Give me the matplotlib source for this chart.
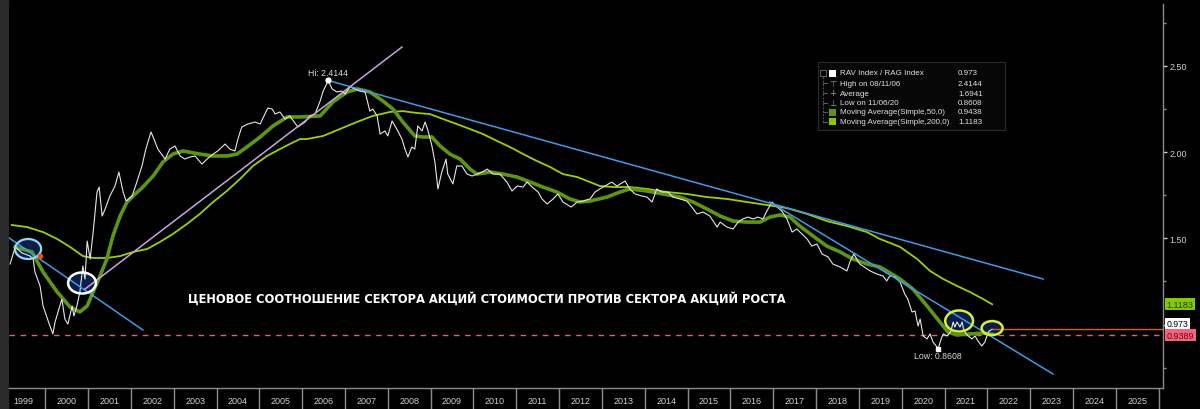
import matplotlib
matplotlib.use("Agg")
import matplotlib.pyplot as plt
from matplotlib.patches import Ellipse, Rectangle
from matplotlib.ticker import MultipleLocator, FixedLocator, FixedFormatter, NullFormatter, FuncFormatter

# RAV Index / RAG Index (decimal year, ratio)
ratio_t = [1999.18, 1999.30, 1999.46, 1999.65, 1999.72, 1999.76, 1999.88, 1999.95, 2000.11, 2000.18,
           2000.23, 2000.30, 2000.39, 2000.46, 2000.53, 2000.63, 2000.67, 2000.74, 2000.81, 2000.88,
           2000.93, 2000.98, 2001.05, 2001.12, 2001.21, 2001.26, 2001.33, 2001.40, 2001.51, 2001.63,
           2001.72, 2001.82, 2001.89, 2002.03, 2002.14, 2002.26, 2002.35, 2002.47, 2002.54, 2002.63,
           2002.80, 2002.91, 2003.03, 2003.15, 2003.26, 2003.38, 2003.50, 2003.66, 2003.78, 2003.92,
           2004.03, 2004.20, 2004.31, 2004.43, 2004.50, 2004.59, 2004.73, 2004.90, 2005.02, 2005.13,
           2005.20, 2005.30, 2005.37, 2005.48, 2005.60, 2005.71, 2005.90, 2006.07, 2006.18, 2006.30,
           2006.42, 2006.49, 2006.61, 2006.70, 2006.81, 2006.93, 2007.00, 2007.12, 2007.23, 2007.35,
           2007.47, 2007.58, 2007.65, 2007.75, 2007.82, 2007.93, 2008.00, 2008.10, 2008.21, 2008.33,
           2008.40, 2008.47, 2008.56, 2008.63, 2008.70, 2008.80, 2008.87, 2008.94, 2009.03, 2009.10,
           2009.17, 2009.26, 2009.36, 2009.40, 2009.52, 2009.61, 2009.73, 2009.85, 2009.97, 2010.08,
           2010.20, 2010.32, 2010.46, 2010.62, 2010.78, 2010.90, 2011.02, 2011.16, 2011.25, 2011.37,
           2011.51, 2011.60, 2011.72, 2011.86, 2011.97, 2012.09, 2012.28, 2012.42, 2012.56, 2012.72,
           2012.84, 2012.95, 2013.07, 2013.23, 2013.35, 2013.54, 2013.65, 2013.77, 2013.93, 2014.05,
           2014.17, 2014.28, 2014.40, 2014.54, 2014.66, 2014.82, 2014.98, 2015.10, 2015.22, 2015.36,
           2015.52, 2015.69, 2015.76, 2015.92, 2016.06, 2016.18, 2016.29, 2016.41, 2016.53, 2016.64,
           2016.76, 2016.85, 2016.97, 2017.09, 2017.20, 2017.32, 2017.44, 2017.55, 2017.67, 2017.79,
           2017.90, 2018.02, 2018.14, 2018.28, 2018.39, 2018.56, 2018.72, 2018.79, 2018.88, 2019.02,
           2019.26, 2019.42, 2019.56, 2019.65, 2019.72, 2019.84, 2019.96, 2020.07, 2020.14, 2020.24,
           2020.31, 2020.38, 2020.43, 2020.50, 2020.59, 2020.66, 2020.73, 2020.85, 2020.92, 2020.97,
           2021.06, 2021.15, 2021.20, 2021.24, 2021.29, 2021.36, 2021.41, 2021.45, 2021.55, 2021.64,
           2021.71, 2021.78, 2021.87, 2021.94, 2021.99, 2022.04, 2022.11]
ratio_v = [1.351, 1.450, 1.415, 1.397, 1.380, 1.305, 1.224, 1.108, 0.992, 0.946,
           1.015, 1.073, 1.148, 1.032, 1.003, 1.108, 1.050, 1.108, 1.189, 1.340,
           1.264, 1.484, 1.380, 1.536, 1.768, 1.797, 1.629, 1.670, 1.745, 1.803,
           1.884, 1.768, 1.716, 1.745, 1.826, 1.919, 2.017, 2.116, 2.075, 2.017,
           1.959, 2.017, 2.035, 1.977, 1.959, 1.971, 1.977, 1.930, 1.959, 1.988,
           2.006, 2.046, 2.017, 2.006, 2.075, 2.145, 2.162, 2.174, 2.162, 2.220,
           2.255, 2.249, 2.220, 2.232, 2.191, 2.209, 2.145, 2.174, 2.209, 2.220,
           2.295, 2.353, 2.414, 2.365, 2.348, 2.353, 2.336, 2.377, 2.365, 2.353,
           2.348, 2.237, 2.249, 2.209, 2.104, 2.122, 2.093, 2.180, 2.133, 2.075,
           2.017, 1.971, 2.029, 2.017, 2.151, 2.122, 2.174, 2.122, 2.035, 1.942,
           1.786, 1.884, 1.959, 1.872, 1.815, 1.919, 1.919, 1.872, 1.861, 1.872,
           1.884, 1.901, 1.872, 1.872, 1.826, 1.774, 1.803, 1.797, 1.826, 1.797,
           1.768, 1.728, 1.699, 1.728, 1.757, 1.710, 1.681, 1.710, 1.716, 1.728,
           1.768, 1.786, 1.803, 1.826, 1.803, 1.832, 1.786, 1.757, 1.745, 1.739,
           1.710, 1.786, 1.768, 1.768, 1.739, 1.728, 1.716, 1.681, 1.641, 1.652,
           1.629, 1.565, 1.594, 1.565, 1.554, 1.594, 1.612, 1.623, 1.612, 1.623,
           1.612, 1.658, 1.710, 1.681, 1.658, 1.612, 1.536, 1.554, 1.525, 1.496,
           1.455, 1.467, 1.409, 1.392, 1.351, 1.334, 1.311, 1.363, 1.409, 1.351,
           1.311, 1.293, 1.282, 1.253, 1.282, 1.276, 1.247, 1.177, 1.148, 1.073,
           1.079, 0.992, 1.032, 0.934, 0.917, 0.946, 0.899, 0.861, 0.917, 0.946,
           0.934, 0.963, 1.015, 0.986, 1.015, 0.986, 1.015, 0.963, 0.934, 0.917,
           0.934, 0.905, 0.876, 0.899, 0.934, 0.963, 0.973]

# Moving Average(Simple,50,0)
ma50_t = [1999.30, 1999.69, 1999.95, 2000.28, 2000.58, 2000.81, 2000.98, 2001.12, 2001.28, 2001.44,
          2001.58, 2001.75, 2001.91, 2002.05, 2002.28, 2002.52, 2002.75, 2002.98, 2003.22, 2003.61,
          2003.92, 2004.24, 2004.48, 2004.71, 2005.02, 2005.32, 2005.65, 2005.95, 2006.42, 2006.72,
          2007.05, 2007.30, 2007.58, 2007.89, 2008.12, 2008.35, 2008.63, 2008.82, 2009.03, 2009.22,
          2009.45, 2009.69, 2009.92, 2010.08, 2010.39, 2010.69, 2011.02, 2011.32, 2011.62, 2011.95,
          2012.25, 2012.49, 2012.72, 2013.12, 2013.42, 2013.65, 2014.05, 2014.42, 2014.82, 2015.13,
          2015.45, 2015.76, 2016.06, 2016.39, 2016.69, 2016.92, 2017.16, 2017.39, 2017.62, 2017.93,
          2018.25, 2018.56, 2018.86, 2019.19, 2019.49, 2019.65, 2019.96, 2020.26, 2020.59, 2020.89,
          2021.08, 2021.29, 2021.59, 2021.90, 2022.11]
ma50_v = [1.450, 1.421, 1.305, 1.189, 1.102, 1.073, 1.108, 1.189, 1.282, 1.380,
          1.513, 1.629, 1.710, 1.745, 1.797, 1.861, 1.942, 1.988, 2.006, 1.988,
          1.977, 1.977, 1.988, 2.029, 2.087, 2.151, 2.203, 2.203, 2.209, 2.290,
          2.348, 2.365, 2.348, 2.295, 2.249, 2.174, 2.093, 2.087, 2.087, 2.035,
          1.988, 1.959, 1.901, 1.872, 1.884, 1.872, 1.855, 1.826, 1.797, 1.768,
          1.728, 1.710, 1.716, 1.739, 1.768, 1.786, 1.774, 1.757, 1.739, 1.710,
          1.670, 1.629, 1.600, 1.594, 1.594, 1.623, 1.635, 1.623, 1.571, 1.513,
          1.455, 1.421, 1.380, 1.351, 1.334, 1.311, 1.264, 1.206, 1.108, 1.015,
          0.957, 0.940, 0.946, 0.951, 0.944]

# Moving Average(Simple,200,0)
ma200_t = [1999.22, 1999.58, 1999.95, 2000.28, 2000.58, 2000.88, 2001.12, 2001.44, 2001.75, 2002.05,
           2002.38, 2002.68, 2002.98, 2003.31, 2003.61, 2003.92, 2004.24, 2004.55, 2004.85, 2005.18,
           2005.48, 2005.71, 2005.95, 2006.11, 2006.49, 2006.88, 2007.28, 2007.65, 2008.05, 2008.35,
           2008.68, 2008.98, 2009.29, 2009.61, 2009.92, 2010.22, 2010.55, 2010.85, 2011.16, 2011.48,
           2011.79, 2012.09, 2012.42, 2012.72, 2012.95, 2013.26, 2013.65, 2014.05, 2014.52, 2014.98,
           2015.45, 2015.92, 2016.39, 2016.85, 2017.32, 2017.79, 2018.25, 2018.72, 2019.19, 2019.49,
           2019.96, 2020.36, 2020.66, 2020.97, 2021.29, 2021.59, 2021.90, 2022.11]
ma200_v = [1.577, 1.565, 1.536, 1.496, 1.450, 1.397, 1.386, 1.386, 1.397, 1.421,
           1.438, 1.479, 1.525, 1.583, 1.641, 1.710, 1.774, 1.844, 1.919, 1.977,
           2.017, 2.046, 2.075, 2.075, 2.093, 2.133, 2.174, 2.209, 2.232, 2.237,
           2.226, 2.220, 2.191, 2.162, 2.133, 2.104, 2.064, 2.029, 1.988, 1.948,
           1.913, 1.872, 1.855, 1.826, 1.803, 1.797, 1.797, 1.786, 1.768, 1.757,
           1.739, 1.728, 1.710, 1.693, 1.675, 1.641, 1.600, 1.571, 1.536, 1.496,
           1.450, 1.380, 1.311, 1.264, 1.224, 1.189, 1.148, 1.118]

# hand-drawn trend lines: (start year, start value, end year, end value)
trend_blue_long = [2006.61, 2.414, 2023.30, 1.264]
trend_blue_left = [1999.13, 1.507, 2002.28, 0.969]
trend_blue_low = [2016.92, 1.710, 2023.53, 0.714]
trend_pink = [2000.93, 1.206, 2008.33, 2.608]

# highlighted areas: (centre year, centre value, width in years, height in ratio)
circle_1999 = [1999.60, 1.438, 0.61, 0.116]
circle_2000 = [2000.86, 1.241, 0.65, 0.122]
circle_2021 = [2021.34, 1.021, 0.65, 0.122]
circle_2022 = [2022.11, 0.980, 0.49, 0.081]
marker_1999 = [1999.88, 1.397]

hi_date, hi_value = 2006.61, 2.4144
lo_date, lo_value = 2020.85, 0.8608
last_value = 0.973
red_level = 0.9389
ma50_last = 0.9438
ma200_last = 1.1183
years = list(range(1999, 2026))

legend_names = ["RAV Index / RAG Index", "High on 08/11/06", "Average", "Low on 11/06/20",
                "Moving Average(Simple,50,0)", "Moving Average(Simple,200,0)"]
legend_values = ["0.973", "2.4144", "1.6941", "0.8608", "0.9438", "1.1183"]

title = "ЦЕНОВОЕ СООТНОШЕНИЕ СЕКТОРА АКЦИЙ СТОИМОСТИ ПРОТИВ СЕКТОРА АКЦИЙ РОСТА"

W, H = 1200, 410
SMALL = "Liberation Sans"
c_raw = "#e6e6e6"
c_ma50 = "#5c9612"
c_ma200 = "#9ccf0a"
c_blue = "#3f9ae6"
c_pink = "#c9a3e0"
c_red = "#e0607a"
c_navy = "#0b1d48"


def fx(x):
    return x / W


def fy(y):
    return 1 - y / H


fig = plt.figure(figsize=(12, 4.1), dpi=100, facecolor="black")
fig.add_artist(Rectangle((0, 0), fx(8), 1, transform=fig.transFigure, color="#2b2b2b", zorder=0))
ax = fig.add_axes([fx(9), fy(389), fx(1163 - 9), (389 - 5) / H])
ax.set_facecolor("black")
x0, x1 = 1999.155, 2026.10
ax.set_xlim(x0, x1)
ax.set_ylim(0.6327, 2.8575)

# circle fills sit under the lines, rims on top
for (cx, cy, w, h), ec, lw in [(circle_1999, "#93d9f7", 1.6), (circle_2000, "white", 1.8),
                               (circle_2021, "#d6ee3c", 1.8), (circle_2022, "#d6ee3c", 1.8)]:
    ax.add_patch(Ellipse((cx, cy), w, h, facecolor=c_navy, edgecolor="none", zorder=1))
    ax.add_patch(Ellipse((cx, cy), w, h, facecolor="none", edgecolor=ec, lw=lw, zorder=6))

ax.axhline(red_level, color=c_red, lw=1, ls=(0, (4, 4)), zorder=2)
ax.hlines(last_value, ratio_t[-1], x1, color="#c8642a", lw=1, zorder=2)

ax.plot(ma200_t, ma200_v, color=c_ma200, lw=1.3, zorder=3)
ax.plot(ma50_t, ma50_v, color=c_ma50, lw=2.6, zorder=3.2)
ax.plot(ratio_t, ratio_v, color=c_raw, lw=0.8, zorder=4)

for t0, v0, t1, v1 in [trend_blue_long, trend_blue_left, trend_blue_low]:
    ax.plot([t0, t1], [v0, v1], color=c_blue, lw=1.1, zorder=5)
ax.plot(trend_pink[0::2], trend_pink[1::2], color=c_pink, lw=1.1, zorder=5)
ax.plot(*marker_1999, "o", color="#e8501e", ms=3, zorder=7)

ax.plot(hi_date, hi_value, "o", color="white", ms=3.5, zorder=7)
ax.annotate(f"Hi: {hi_value:.4f}", (hi_date, hi_value), xytext=(0, 5.5), textcoords="offset points",
            ha="center", va="center", color="#d8d8d8", fontsize=6.3, family=SMALL)
ax.plot(lo_date, lo_value, "s", color="white", ms=2.5, zorder=7)
ax.annotate(f"Low: {lo_value:.4f}", (lo_date, lo_value), xytext=(0, -4.8), textcoords="offset points",
            ha="center", va="center", color="#d8d8d8", fontsize=6.3, family=SMALL)

ttl = ax.text(2010.315, 1.154, title, ha="center", va="center", color="white",
              fontsize=9.5, fontweight="bold", family="DejaVu Sans", zorder=8)

# axes styling
for s in ["top", "left"]:
    ax.spines[s].set_visible(False)
for s in ["right", "bottom"]:
    ax.spines[s].set_color("#8c8c8c")
    ax.spines[s].set_linewidth(1)

ax.xaxis.set_major_locator(FixedLocator(range(2000, 2027)))
ax.xaxis.set_major_formatter(NullFormatter())
ax.xaxis.set_minor_locator(FixedLocator([y + 0.5 for y in years]))
ax.xaxis.set_minor_formatter(FixedFormatter([str(y) for y in years]))
ax.tick_params(axis="x", which="major", length=16, width=1, color="#8c8c8c", direction="out")
ax.tick_params(axis="x", which="minor", length=0, pad=5.5, labelsize=6.5, labelcolor="#d0d0d0")
for lab in ax.get_xticklabels(minor=True):
    lab.set_family(SMALL)

# the 1.00 label sits under the price tags, so it is left blank
ax.yaxis.tick_right()
ax.yaxis.set_major_locator(MultipleLocator(0.5))
ax.yaxis.set_minor_locator(MultipleLocator(0.25))
ax.yaxis.set_major_formatter(FuncFormatter(lambda v, p: "" if abs(v - 1) < 1e-6 else f"{v:.2f}"))
ax.tick_params(axis="y", which="major", length=3, width=1, color="#d0d0d0", pad=1.5,
               labelsize=6.5, labelcolor="#d0d0d0")
ax.tick_params(axis="y", which="minor", length=2, width=1, color="#8c8c8c")
for lab in ax.get_yticklabels():
    lab.set_family(SMALL)

# value tags on the right axis (stacked like the terminal does)
ytr = ax.get_yaxis_transform()
ax.text(1.003, ma200_last, f"{ma200_last:.4f}", transform=ytr, ha="left", va="center", fontsize=6.5,
        family=SMALL, color="#203f00", bbox=dict(boxstyle="square,pad=0.2", fc="#86c800", ec="none"),
        clip_on=False, zorder=9)
ax.text(1.003, 1.005, f"{last_value:.3f}", transform=ytr, ha="left", va="center", fontsize=6.3,
        family=SMALL, color="black", bbox=dict(boxstyle="square,pad=0.15", fc="white", ec="none"),
        clip_on=False, zorder=9)
ax.text(1.003, red_level, f"{red_level:.4f}", transform=ytr, ha="left", va="center", fontsize=6.5,
        family=SMALL, color="#7a0010", bbox=dict(boxstyle="square,pad=0.2", fc="#f0647e", ec="none"),
        clip_on=False, zorder=10)

# legend panel
fig.add_artist(Rectangle((fx(818), fy(131)), fx(1005 - 818), (131 - 63) / H, transform=fig.transFigure,
                         fc="#070707", ec="#2a2a2a", lw=0.8, zorder=20))
rows = [74, 84, 94, 103.5, 113, 122.5]
fig.add_artist(Rectangle((fx(820), fy(77)), fx(6), 6 / H, transform=fig.transFigure,
                         fc="none", ec="#707070", lw=0.6, zorder=21))
fig.add_artist(plt.Line2D([fx(823), fx(823)], [fy(78), fy(125)], transform=fig.transFigure,
                          color="#707070", lw=0.6, ls=(0, (2, 2)), zorder=21))
for y in rows[1:]:
    fig.add_artist(plt.Line2D([fx(823), fx(827)], [fy(y), fy(y)], transform=fig.transFigure,
                              color="#707070", lw=0.6, zorder=21))
icon_colors = ["white", None, None, None, c_ma50, "#86c800"]
icon_glyphs = [None, "\u22a4", "+", "\u22a5", None, None]
for y, name, val, col, gl in zip(rows, legend_names, legend_values, icon_colors, icon_glyphs):
    if col:
        fig.add_artist(Rectangle((fx(829), fy(y + 3.5)), fx(7), 7 / H, transform=fig.transFigure,
                                 fc=col, ec="none", zorder=21))
    else:
        fig.text(fx(832.5), fy(y), gl, ha="center", va="center", color="#9a9a9a", fontsize=6,
                 family="DejaVu Sans", zorder=21)
    fig.text(fx(840), fy(y), name, ha="left", va="center", color="#e0e0e0", fontsize=5.8,
             family=SMALL, zorder=21)
    fig.text(fx(958), fy(y), val, ha="left", va="center", color="#e0e0e0", fontsize=5.8,
             family=SMALL, zorder=21)

# stretch the headline to the width it has on the original chart
fig.canvas.draw()
w = ttl.get_window_extent().width
ttl.set_fontsize(ttl.get_fontsize() * 604 / w)

fig.savefig("out.png", dpi=100, facecolor="black")
